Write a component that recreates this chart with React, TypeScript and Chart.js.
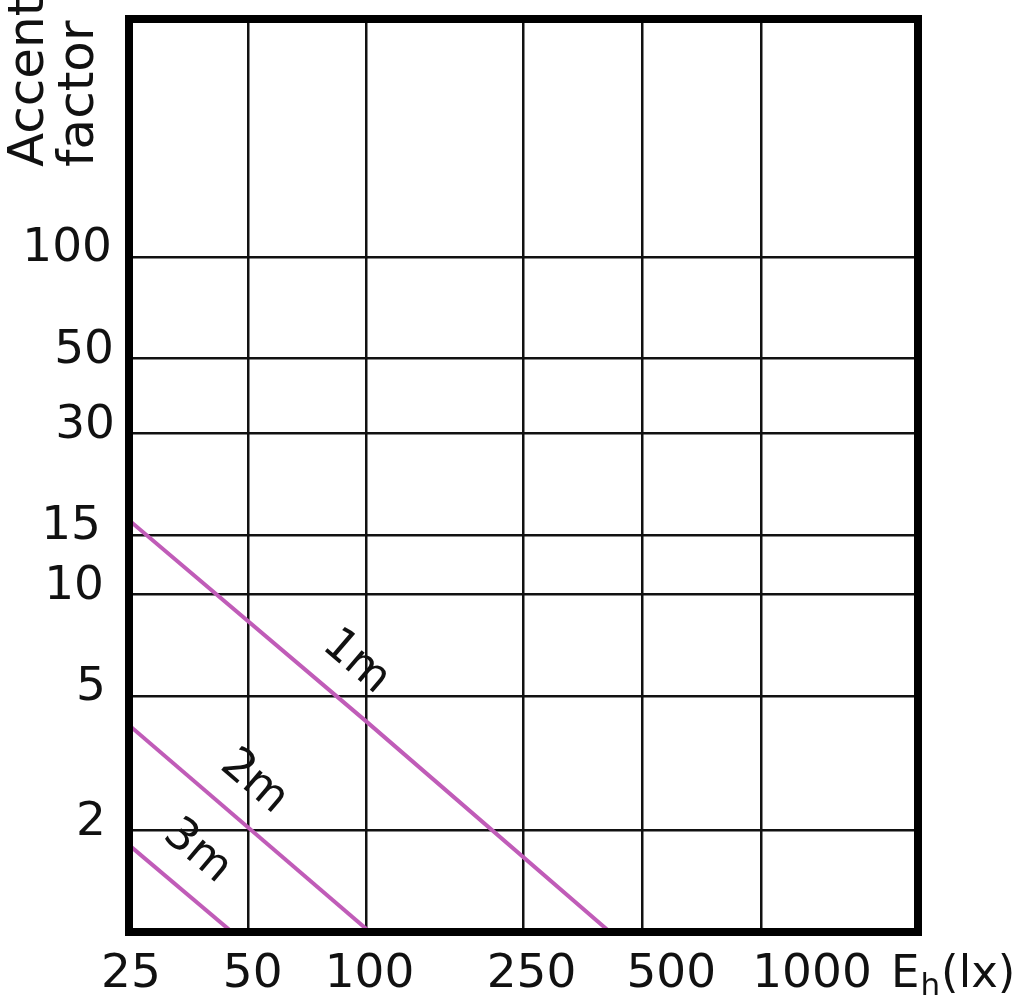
import React, { useEffect, useRef } from "react";
import { Chart, registerables } from "chart.js";

Chart.register(...registerables);

// ---- data ----
const xTickValues = [25, 50, 100, 250, 500, 1000, 2500];
const xTickLabels = ["25", "50", "100", "250", "500", "1000", ""];
const yTickValues = [1, 2, 5, 10, 15, 30, 50, 100, 500];
const yTickLabels = ["", "2", "5", "10", "15", "30", "50", "100", ""];

const seriesNames = ["1m", "2m", "3m"];
const line1mX = [25, 100, 414];
const line1mY = [16.6, 4.2, 1];
const line2mX = [25, 102];
const line2mY = [4.1, 1];
const line3mX = [25, 45.6];
const line3mY = [1.81, 1];
// where each curve's label sits (data coords)
const labelX = [94, 51.8, 37.2];
const labelY = [6.3, 2.78, 1.73];

const X_MIN = 25;
const X_MAX = 2500;
const Y_MIN = 1;
const Y_MAX = 500;

const yTitleLines = ["Accent", "factor"];
const xTitleMain = "E";
const xTitleSub = "h";
const xTitleRest = "(lx)";

// ---- styling (label nudges in px, as in the original artwork) ----
const xLabelShift = [2, 5, 3, 8, 29, 51, 0];
const yLabelShift = [0, 0, 0, -2, -5, 9, 8, 6, 0];

const FONT = '"DejaVu Sans", sans-serif';
const TICK_SIZE = 47;
const LINE_COLOR = "#C05CB8";
const TEXT_COLOR = "#111";

const toPts = (xs: number[], ys: number[]) => xs.map((x, i) => ({ x, y: ys[i] }));

export default function App() {
  const ref = useRef<HTMLCanvasElement | null>(null);

  useEffect(() => {
    let chart: Chart | null = null;
    let cancelled = false;

    const overlay = {
      id: "overlay",
      afterDatasetsDraw(c: any) {
        const ctx = c.ctx;
        const { left, right, top, bottom } = c.chartArea;
        const xs = c.scales.x;
        const ys = c.scales.y;
        ctx.save();
        // curve labels
        ctx.fillStyle = TEXT_COLOR;
        ctx.font = `45px ${FONT}`;
        ctx.textAlign = "center";
        ctx.textBaseline = "middle";
        c.data.datasets.forEach((ds: any, i: number) => {
          const d = ds.data;
          const p0x = xs.getPixelForValue(d[0].x);
          const p0y = ys.getPixelForValue(d[0].y);
          const p1x = xs.getPixelForValue(d[d.length - 1].x);
          const p1y = ys.getPixelForValue(d[d.length - 1].y);
          const ang = Math.atan2(p1y - p0y, p1x - p0x);
          ctx.save();
          ctx.translate(xs.getPixelForValue(labelX[i]), ys.getPixelForValue(labelY[i]));
          ctx.rotate(ang);
          ctx.fillText(seriesNames[i], 0, 0);
          ctx.restore();
        });
        // frame
        ctx.strokeStyle = "#000";
        ctx.lineWidth = 8;
        ctx.strokeRect(left, top - 2, right - left, bottom - top + 2);

        // x tick labels
        ctx.font = `${TICK_SIZE}px ${FONT}`;
        ctx.textAlign = "center";
        ctx.textBaseline = "alphabetic";
        xTickValues.forEach((v, i) => {
          if (!xTickLabels[i]) return;
          ctx.fillText(xTickLabels[i], xs.getPixelForValue(v) + xLabelShift[i], 987);
        });
        // y tick labels
        ctx.textAlign = "right";
        ctx.textBaseline = "middle";
        yTickValues.forEach((v, i) => {
          if (!yTickLabels[i]) return;
          ctx.fillText(yTickLabels[i], 106 + yLabelShift[i], ys.getPixelForValue(v) - 8);
        });

        // y title
        ctx.font = `50px ${FONT}`;
        ctx.textAlign = "left";
        ctx.textBaseline = "alphabetic";
        const baseXs = [43, 93];
        yTitleLines.forEach((t, i) => {
          ctx.save();
          ctx.translate(baseXs[i], 167);
          ctx.rotate(-Math.PI / 2);
          ctx.fillText(t, 0, 0);
          ctx.restore();
        });
        // x title
        ctx.font = `45px ${FONT}`;
        let x = right - 27;
        const by = 987;
        ctx.fillText(xTitleMain, x, by);
        x += ctx.measureText(xTitleMain).width;
        ctx.font = `31px ${FONT}`;
        ctx.fillText(xTitleSub, x + 1, by + 8);
        x += ctx.measureText(xTitleSub).width + 2;
        ctx.font = `45px ${FONT}`;
        ctx.fillText(xTitleRest, x, by);
        ctx.restore();
      },
    };

    const build = () => {
      if (cancelled || !ref.current) return;
      chart = new Chart(ref.current, {
        type: "line",
        data: {
          datasets: [
            { label: seriesNames[0], data: toPts(line1mX, line1mY) },
            { label: seriesNames[1], data: toPts(line2mX, line2mY) },
            { label: seriesNames[2], data: toPts(line3mX, line3mY) },
          ].map((d) => ({
            ...d,
            borderColor: LINE_COLOR,
            borderWidth: 4,
            pointRadius: 0,
            tension: 0,
            fill: false,
          })),
        },
        options: {
          animation: false,
          responsive: false,
          maintainAspectRatio: false,
          layout: { padding: { top: 21, right: 101, left: 0, bottom: 0 } },
          plugins: { legend: { display: false }, tooltip: { enabled: false } },
          scales: {
            x: {
              type: "logarithmic",
              min: X_MIN,
              max: X_MAX,
              afterBuildTicks: (s: any) => {
                s.ticks = xTickValues.map((v) => ({ value: v }));
              },
              afterFit: (s: any) => {
                s.height = 68;
                s.paddingLeft = 0;
                s.paddingRight = 0;
              },
              ticks: {
                autoSkip: false,
                maxRotation: 0,
                minRotation: 0,
                font: { family: FONT, size: TICK_SIZE },
                callback: () => "",
              },
              grid: { color: "#111", lineWidth: 2.5, drawTicks: false },
              border: { display: false },
            },
            y: {
              type: "logarithmic",
              min: Y_MIN,
              max: Y_MAX,
              afterBuildTicks: (s: any) => {
                s.ticks = yTickValues.map((v) => ({ value: v }));
              },
              afterFit: (s: any) => {
                s.width = 129;
                s.paddingTop = 0;
                s.paddingBottom = 0;
              },
              ticks: {
                autoSkip: false,
                font: { family: FONT, size: TICK_SIZE },
                callback: () => "",
              },
              grid: { color: "#111", lineWidth: 2.5, drawTicks: false },
              border: { display: false },
            },
          },
        },
        plugins: [overlay],
      } as any);
    };

    const fontsApi: any = (document as any).fonts;
    if (fontsApi && fontsApi.load) {
      Promise.all([
        fontsApi.load(`45px "DejaVu Sans"`),
        fontsApi.load(`50px "DejaVu Sans"`),
      ])
        .catch(() => null)
        .then(build);
    } else {
      build();
    }

    return () => {
      cancelled = true;
      if (chart) chart.destroy();
    };
  }, []);

  return (
    <div style={{ position: "fixed", left: 0, top: 0, width: 1019, height: 1000, background: "#fff" }}>
      <canvas ref={ref} width={1019} height={1000} style={{ display: "block", width: 1019, height: 1000 }} />
    </div>
  );
}
